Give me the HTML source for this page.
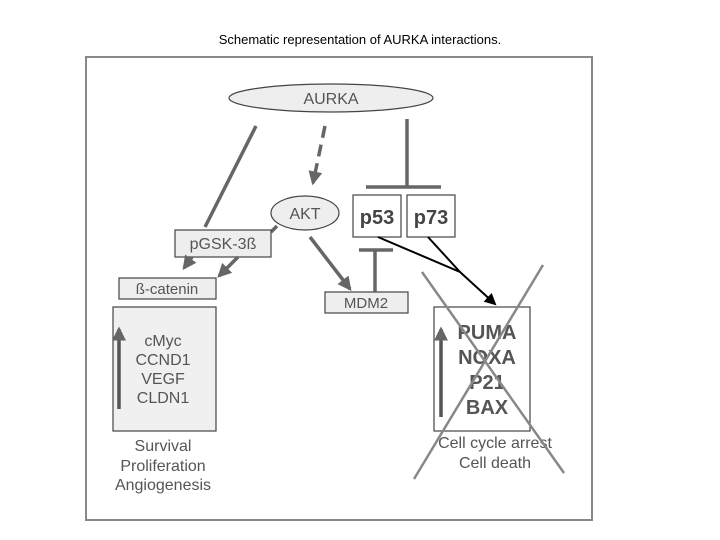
<!DOCTYPE html>
<html><head><style>
body{margin:0;width:720px;height:540px;background:#fff;overflow:hidden}
svg{display:block}
text{font-family:"Liberation Sans",sans-serif}
</style></head><body>
<svg width="720" height="540" viewBox="0 0 720 540">
<defs>
<marker id="ag" markerWidth="4" markerHeight="4" refX="3.3" refY="2" orient="auto" markerUnits="strokeWidth"><path d="M0,0 L4,2 L0,4 z" fill="#666"/></marker>
<marker id="ab" markerWidth="6" markerHeight="6" refX="5" refY="3" orient="auto" markerUnits="strokeWidth"><path d="M0,0 L6,3 L0,6 z" fill="#000"/></marker>
</defs>
<text x="360" y="44" font-size="13" text-anchor="middle" fill="#000">Schematic representation of AURKA interactions.</text>
<rect x="86" y="57" width="506" height="463" fill="#fff" stroke="#888" stroke-width="2"/>
<ellipse cx="331" cy="98" rx="102" ry="14" fill="#eee" stroke="#444" stroke-width="1.2"/>
<text x="331" y="104" font-size="16" text-anchor="middle" fill="#555">AURKA</text>
<line x1="256" y1="126" x2="205" y2="227" stroke="#666" stroke-width="3.5" />
<line x1="325" y1="126" x2="313" y2="183" stroke="#666" stroke-width="3.5" stroke-dasharray="12,7" marker-end="url(#ag)"/>
<line x1="407" y1="119" x2="407" y2="187" stroke="#666" stroke-width="3.5"/>
<line x1="366" y1="187" x2="441" y2="187" stroke="#666" stroke-width="3.5"/>
<ellipse cx="305" cy="213" rx="34" ry="17" fill="#eee" stroke="#444" stroke-width="1.2"/>
<text x="305" y="219" font-size="16" text-anchor="middle" fill="#555">AKT</text>
<line x1="277" y1="226" x2="271" y2="232" stroke="#666" stroke-width="3.5"/>
<rect x="353" y="195" width="48" height="42" fill="#fff" stroke="#444" stroke-width="1.2"/>
<rect x="407" y="195" width="48" height="42" fill="#fff" stroke="#444" stroke-width="1.2"/>
<text x="377" y="224" font-size="20" font-weight="bold" text-anchor="middle" fill="#444">p53</text>
<text x="431" y="224" font-size="20" font-weight="bold" text-anchor="middle" fill="#444">p73</text>
<rect x="175" y="230" width="96" height="27" fill="#eee" stroke="#444" stroke-width="1.2"/>
<text x="223" y="249" font-size="16" text-anchor="middle" fill="#555">pGSK-3ß</text>
<line x1="192" y1="257" x2="184" y2="268" stroke="#666" stroke-width="3.5" marker-end="url(#ag)"/>
<line x1="238" y1="257" x2="219" y2="276" stroke="#666" stroke-width="3.5" marker-end="url(#ag)"/>
<rect x="119" y="278" width="97" height="21" fill="#eee" stroke="#444" stroke-width="1.2"/>
<text x="167" y="294" font-size="15" text-anchor="middle" fill="#555">ß-catenin</text>
<line x1="310" y1="237" x2="350" y2="289" stroke="#666" stroke-width="3.5" marker-end="url(#ag)"/>
<rect x="325" y="292" width="83" height="21" fill="#eee" stroke="#444" stroke-width="1.2"/>
<text x="366" y="308" font-size="15" text-anchor="middle" fill="#555">MDM2</text>
<line x1="375" y1="292" x2="375" y2="250" stroke="#666" stroke-width="3.5"/>
<line x1="359" y1="250" x2="393" y2="250" stroke="#666" stroke-width="3.5"/>
<polyline points="378,237 460,272 495,304" fill="none" stroke="#000" stroke-width="2" marker-end="url(#ab)"/>
<line x1="428" y1="237" x2="460" y2="272" stroke="#000" stroke-width="2"/>
<rect x="113" y="307" width="103" height="124" fill="#f0f0f0" stroke="#444" stroke-width="1.2"/>
<line x1="119" y1="409" x2="119" y2="329" stroke="#555" stroke-width="3.5" marker-end="url(#ag)"/>
<g font-size="16" text-anchor="middle" fill="#555">
<text x="163" y="346">cMyc</text><text x="163" y="365">CCND1</text><text x="163" y="384">VEGF</text><text x="163" y="403">CLDN1</text>
<text x="163" y="451">Survival</text><text x="163" y="471">Proliferation</text><text x="163" y="490">Angiogenesis</text>
<text x="495" y="448">Cell cycle arrest</text><text x="495" y="468">Cell death</text>
</g>
<rect x="434" y="307" width="96" height="124" fill="#fff" stroke="#444" stroke-width="1.2"/>
<line x1="441" y1="417" x2="441" y2="329" stroke="#555" stroke-width="3.5" marker-end="url(#ag)"/>
<g font-size="20" font-weight="bold" text-anchor="middle" fill="#555">
<text x="487" y="339">PUMA</text><text x="487" y="364">NOXA</text><text x="487" y="389">P21</text><text x="487" y="414">BAX</text>
</g>
<line x1="422" y1="272" x2="564" y2="473" stroke="#888" stroke-width="2.5"/>
<line x1="543" y1="265" x2="414" y2="479" stroke="#888" stroke-width="2.5"/>
</svg>
</body></html>
